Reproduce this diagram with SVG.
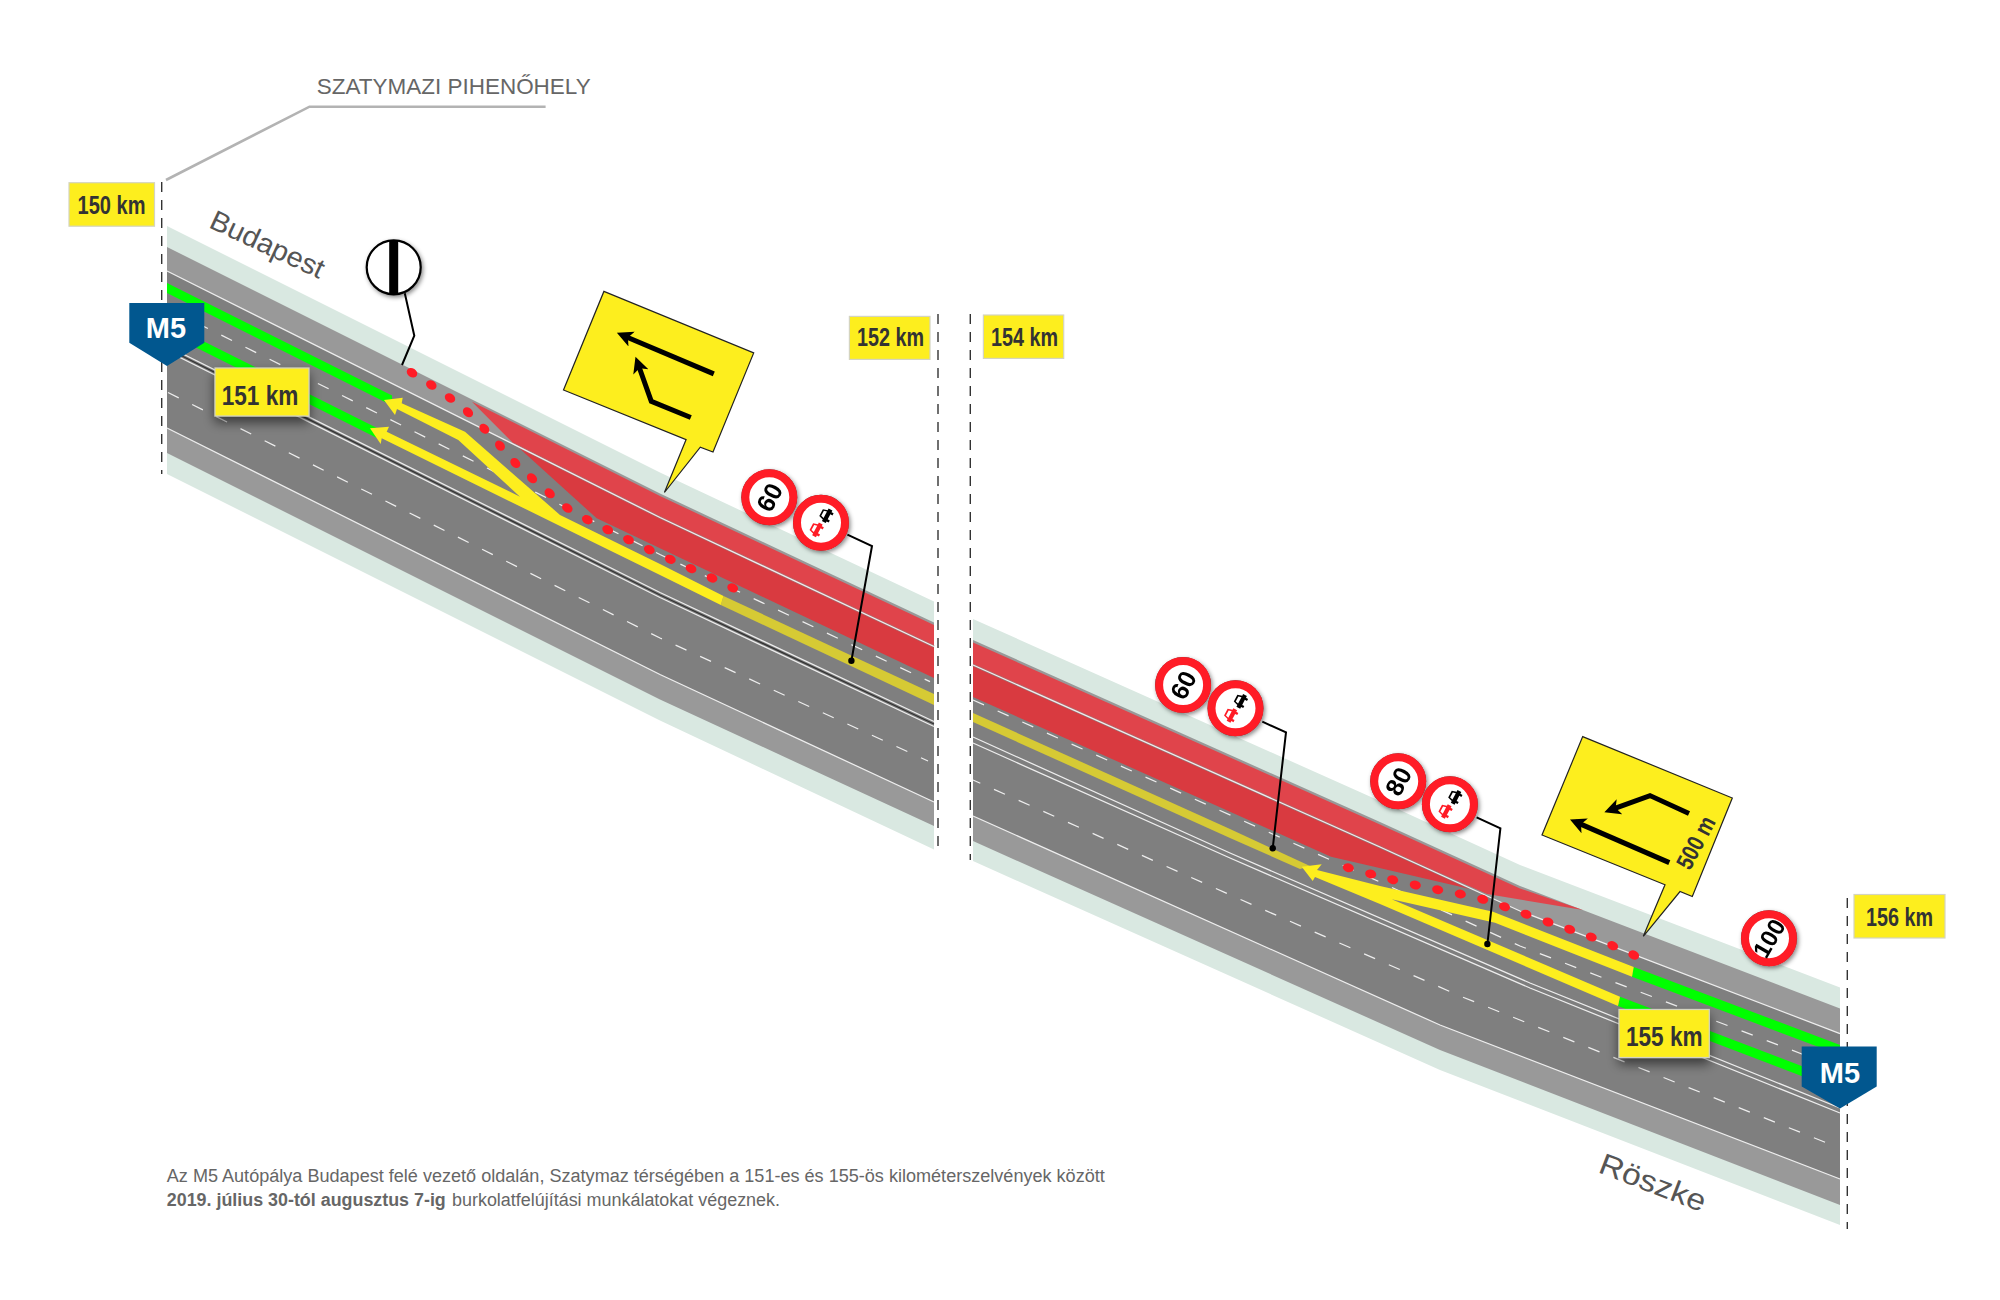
<svg xmlns="http://www.w3.org/2000/svg" xmlns:xlink="http://www.w3.org/1999/xlink" width="2000" height="1300" viewBox="0 0 2000 1300">
<style>
text{font-family:"Liberation Sans",Arial,sans-serif}
.verge{fill:#d9e8e1}.shoulder{fill:#999}.asph{fill:#7f7f7f}
.wl{fill:none;stroke:#eee;stroke-width:1.25}
.under{fill:none;stroke:#8a8a8a;stroke-width:3}
.dash{fill:none;stroke:#eee;stroke-width:1.25;stroke-dasharray:12 15}
.div{fill:none;stroke:#333;stroke-width:1.4;stroke-dasharray:10 8}
.green{fill:#00ff00}.yellow{fill:#fdee1e}.dim{fill:#d6ca34}
.red1{fill:#e0444b}.red2{fill:#d93a40}
.dots{fill:none;stroke:none;marker-start:url(#dot);marker-mid:url(#dot);marker-end:url(#dot)}
.km{fill:#fdee1e;stroke:#d4d4c0;stroke-width:1.2}
.kmt{font-weight:700;fill:#333}
.shield{fill:#01578f}
.m5{font-weight:700;font-size:29px;fill:#fff;text-anchor:middle}
.lead{fill:none;stroke:#000;stroke-width:2}
.callout{fill:#fdee1e;stroke:#222;stroke-width:1.2;stroke-linejoin:miter}
.arr{fill:none;stroke:#000;stroke-width:5;stroke-linejoin:miter;marker-end:url(#ah)}
.ring{fill:#fff;stroke:#ff1c26;stroke-width:8}
.spd{font-weight:700;fill:#000;text-anchor:middle}
.note{fill:#666;font-size:18px}
</style>
<defs>
<filter id="sh" x="-30%" y="-30%" width="170%" height="170%"><feDropShadow dx="1.5" dy="2" stdDeviation="2.2" flood-color="#000" flood-opacity=".45"/></filter>
<filter id="bs" x="-20%" y="-30%" width="140%" height="190%"><feDropShadow dx="0" dy="6" stdDeviation="6" flood-color="#000" flood-opacity=".55"/></filter>
<marker id="dot" markerUnits="userSpaceOnUse" markerWidth="14" markerHeight="12" refX="7" refY="6" orient="auto"><ellipse cx="7" cy="6" rx="5.6" ry="4.4" fill="#ff1c26"/></marker>
<marker id="ah" markerUnits="userSpaceOnUse" markerWidth="20" markerHeight="20" refX="10" refY="9" orient="auto"><path d="M16 9 L0 1 L4 9 L0 17Z" fill="#000"/></marker>
<path id="car" fill-rule="evenodd" d="M-4,-6H4L5.5,-1H7.5V3.5H5.5V6H3V3.5H-3V6H-5.5V3.5H-7.5V-1H-5.5ZM-3,-4.2L-3.8,-1H3.8L3,-4.2Z"/>
<g id="noov"><circle r="28" fill="#444"/><circle r="24" class="ring"/><use href="#car" fill="#000" transform="rotate(-62) translate(9,1) scale(.95)"/><use href="#car" fill="#ff1c26" transform="rotate(-62) translate(-8,-1) scale(.95)"/></g>
<g id="blank"><circle r="28" fill="#444"/><circle r="24" class="ring"/></g>
</defs>
<rect width="2000" height="1300" fill="#fff"/>

<g id="road-left">
<polygon class="verge" points="167,226 660,472.5 934,601.5 934,849.5 660,720.5 167,474"/>
<polygon class="shoulder" points="167,247 660,493.5 934,622.5 934,826 660,699.5 167,453"/>
<polygon class="asph" points="167,271 660,517.5 934,646.5 934,802 660,674.5 167,428"/>
<polyline class="wl" points="167,346 660,592.5 934,721.5"/>
<polyline class="wl" points="167,351 660,597.5 934,726.5"/>
<polyline fill="none" stroke="#333" stroke-width="1.2" points="167,348.5 660,595 934,724"/>
<polyline class="dash" points="173,311 660,554.5 930,681.6"/>
<polyline class="dash" points="168,392.5 660,638 928,761"/>
<polyline class="wl" points="167,428 660,674.5 934,802"/>
<polygon class="green" points="167,283 392,395.5 392,405.5 167,293"/>
<polygon class="green" points="167,323 380,429.5 380,439.5 167,333"/>
<polygon class="red1" points="472,401.7 660,496 934,625 934,647 660,518 513.3,443.3"/>
<polygon class="red2" points="518,447 660,518 934,647 934,678 596.7,518.3"/>
<polygon class="dim" points="723.5,596 934,694 934,705 720.8,605"/>
<polygon class="yellow" points="384,400 402.7,397.7 401.7,403.3 465,431.7 560,515 660,564 723.5,596 720.8,605 660,575 560,526 381.7,438.3 380.7,444 370,428.3 389,426.7 386.7,431.7 520,496.7 458.3,440 397,409 395,415"/>
<polyline class="under" points="513.3,444 660,517.5 934,646.5" stroke-opacity=".5"/>
<polyline class="wl" points="167,271 660,517.5 934,646.5"/>
<polyline class="dots" points="412,372.7 431.3,385 450,398 468,412.3 484.3,428.7 500,445.7 515.3,463 532,478.3 549.7,493.3 567.3,508 587.3,519.7 607.7,529.7 628.5,539.7 649.3,549.7 670.3,559.3 691,568.6 712,578 732.7,587.9"/>
</g>

<g id="road-right">
<polygon class="verge" points="973,619 1380,801 1520,865 1840,987.6 1840,1225 1440,1070 973,861"/>
<polygon class="shoulder" points="973,640 1380,822 1520,886 1840,1008.6 1840,1205 1440,1050 973,841"/>
<polygon class="asph" points="973,665 1380,847 1520,911 1840,1033.6 1840,1179 1440,1025 973,816"/>
<polyline class="wl" points="973,737 1230,853 1530,983 1840,1108"/>
<polyline class="wl" points="973,743 1230,858 1530,988 1840,1113"/>
<polyline class="dash" points="973,700 1380,882 1520,946 1835,1066.7"/>
<polyline class="dash" points="973,780 1241.7,900 1460,996 1827,1143" stroke-dashoffset="4"/>
<polyline class="wl" points="973,816 1440,1025 1840,1179"/>
<polygon class="red1" points="973,642.5 1380,824.5 1520,888.5 1583,910 1487,894 1380,847.5 973,665.5"/>
<polygon class="red2" points="973,666 1380,848 1470,889 1331,856.7 973,697"/>
<polygon class="dim" points="973,713 1230,829 1310,866 1300,869 1230,838 973,722"/>
<polygon class="green" points="1633.7,967 1840,1045 1840,1055 1632,976.7"/>
<polygon class="green" points="1620,996.7 1812,1070 1812,1080 1618,1006"/>
<polygon class="yellow" points="1301.7,866.7 1321.7,864.3 1317,870 1380,886 1493,911.7 1633.7,967 1632,976.7 1495,922.7 1391.7,899.3 1620,996.7 1618,1006 1380,904 1315,877 1312.7,881"/>
<polyline class="under" points="973,665 1380,847 1490,897" stroke-opacity=".5"/>
<polyline class="wl" points="973,665 1380,847 1520,911 1840,1033.6"/>
<polyline class="dots" points="1348.3,867.7 1370.7,874 1392.7,879.7 1415.3,885 1437.7,889.7 1460.3,894 1482.7,899.3 1504.5,906.7 1526,914.2 1548,922 1569.7,929.3 1591.3,937 1612.7,945.7 1633.7,955"/>
</g>

<g id="connectors">
<polyline fill="none" stroke="#b3b3b3" stroke-width="2.6" points="166,180 309.5,106.7 545.6,106.7"/>
<line class="div" x1="161.7" y1="182" x2="161.7" y2="474"/>
<line class="div" x1="938" y1="314" x2="938" y2="848"/>
<line class="div" x1="970.3" y1="314" x2="970.3" y2="860"/>
<line class="div" x1="1847.3" y1="898" x2="1847.3" y2="1229"/>
<polyline class="lead" points="404.8,293.3 414.3,335.7 402,365"/>
<polyline class="lead" points="847.4,534.6 872,546 851.4,660.7"/>
<polyline class="lead" points="1262.3,721.7 1286,732.3 1272.7,848.3"/>
<polyline class="lead" points="1476.6,817.3 1500.4,828.3 1487.4,944"/>
<circle cx="851.4" cy="660.7" r="3.2"/>
<circle cx="1272.7" cy="848.3" r="3.2"/>
<circle cx="1487.4" cy="944" r="3.2"/>
</g>

<g id="label-pihenohely"><text x="316.7" y="94" font-size="22" fill="#666" textLength="274" lengthAdjust="spacingAndGlyphs">SZATYMAZI PIHENŐHELY</text></g>
<g id="label-budapest"><text transform="translate(207.7 227) rotate(25)" font-size="28" fill="#555" textLength="123" lengthAdjust="spacingAndGlyphs">Budapest</text></g>
<g id="label-roszke"><text transform="translate(1597 1172) rotate(21)" font-size="30" fill="#555" textLength="112" lengthAdjust="spacingAndGlyphs">Röszke</text></g>

<g id="km150"><rect class="km" x="69" y="182.7" width="85.5" height="43.5"/><text class="kmt" x="77.5" y="214" font-size="25" textLength="68" lengthAdjust="spacingAndGlyphs">150 km</text></g>
<g id="km152"><rect class="km" x="849.4" y="316.4" width="80.6" height="43"/><text class="kmt" x="857" y="346" font-size="25" textLength="67" lengthAdjust="spacingAndGlyphs">152 km</text></g>
<g id="km154"><rect class="km" x="983.4" y="315" width="80.3" height="43.4"/><text class="kmt" x="991" y="346" font-size="25" textLength="67" lengthAdjust="spacingAndGlyphs">154 km</text></g>
<g id="km156"><rect class="km" x="1854" y="894.5" width="91" height="43.5"/><text class="kmt" x="1866" y="926" font-size="25" textLength="67" lengthAdjust="spacingAndGlyphs">156 km</text></g>
<g id="km151"><rect class="km" x="215" y="368" width="94" height="48" filter="url(#bs)"/><text class="kmt" x="221.7" y="404.5" font-size="28" textLength="76.6" lengthAdjust="spacingAndGlyphs">151 km</text></g>
<g id="km155"><rect class="km" x="1619" y="1009.5" width="90.3" height="48" filter="url(#bs)"/><text class="kmt" x="1626" y="1046" font-size="28" textLength="76.6" lengthAdjust="spacingAndGlyphs">155 km</text></g>

<g id="m5-left"><polygon class="shield" points="129.3,303 204.3,303 204.3,342.7 167,366 129.3,342.7"/><text class="m5" x="166" y="338">M5</text></g>
<g id="m5-right"><polygon class="shield" points="1801.7,1046.5 1876.7,1046.5 1876.7,1086.5 1840,1108.5 1801.7,1086.5"/><text class="m5" x="1840" y="1083">M5</text></g>

<g id="callout-left">
<polygon class="callout" points="603.9,291.4 753.7,352.9 713,452.1 700.3,447.1 664.4,492.5 686.1,439.6 563.5,390"/>
<polyline class="arr" points="713.8,373.9 622.4,335.2"/>
<polyline class="arr" points="690.8,417.5 651.3,401.4 637.5,362.5"/>
</g>
<g id="callout-right">
<polygon class="callout" points="1582.7,736.6 1732.3,798 1692.3,896.5 1680,891.5 1643.3,936.3 1665,884.8 1542,835"/>
<polyline class="arr" points="1669.3,862.6 1575.5,821.9"/>
<polyline class="arr" points="1689,813.5 1650,795.6 1610,810.1"/>
<text class="kmt" transform="translate(1696 842.7) rotate(-62)" x="0" y="8" font-size="24" text-anchor="middle" textLength="56" lengthAdjust="spacingAndGlyphs">500 m</text>
</g>

<g id="sign-end"><g filter="url(#sh)"><circle cx="393.7" cy="267.3" r="27" fill="#fff" stroke="#000" stroke-width="2.2"/></g><rect x="389.2" y="240.5" width="9" height="53.5" fill="#000"/></g>
<g id="sign-60a" transform="translate(769.3 497.3)" filter="url(#sh)"><use href="#blank"/><text class="spd" transform="rotate(-62)" y="9" font-size="25">60</text></g>
<g id="sign-noov-a" transform="translate(821 522.7)" filter="url(#sh)"><use href="#noov"/></g>
<g id="sign-60b" transform="translate(1183.1 685)" filter="url(#sh)"><use href="#blank"/><text class="spd" transform="rotate(-62)" y="9" font-size="25">60</text></g>
<g id="sign-noov-b" transform="translate(1235.5 708.3)" filter="url(#sh)"><use href="#noov"/></g>
<g id="sign-80" transform="translate(1398.2 781.3)" filter="url(#sh)"><use href="#blank"/><text class="spd" transform="rotate(-62)" y="9" font-size="25">80</text></g>
<g id="sign-noov-c" transform="translate(1449.9 804.3)" filter="url(#sh)"><use href="#noov"/></g>
<g id="sign-100" transform="translate(1769 938.2)" filter="url(#sh)"><use href="#blank"/><text class="spd" transform="rotate(-60)" y="8.5" font-size="24">100</text></g>

<g id="note">
<text class="note" x="166.8" y="1181.7" textLength="938" lengthAdjust="spacingAndGlyphs">Az M5 Autópálya Budapest felé vezető oldalán, Szatymaz térségében a 151-es és 155-ös kilométerszelvények között</text>
<text class="note" x="166.8" y="1205.7" font-weight="700" textLength="279" lengthAdjust="spacingAndGlyphs">2019. július 30-tól augusztus 7-ig</text>
<text class="note" x="452" y="1205.7" textLength="328" lengthAdjust="spacingAndGlyphs">burkolatfelújítási munkálatokat végeznek.</text>
</g>
</svg>
